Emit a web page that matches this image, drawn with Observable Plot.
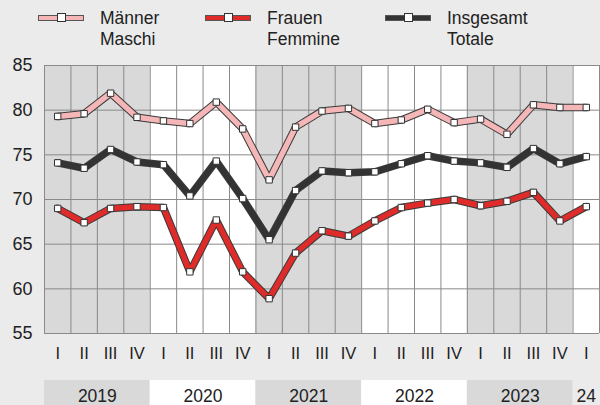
<!DOCTYPE html>
<html>
<head>
<meta charset="utf-8">
<script src="https://cdn.jsdelivr.net/npm/d3@7"></script>
<script src="https://cdn.jsdelivr.net/npm/@observablehq/plot@0.6"></script>
<style>
  html, body { margin: 0; padding: 0; background: #ebebeb; }
  body { width: 600px; height: 405px; overflow: hidden; font-family: "Liberation Sans", Arial, sans-serif; }
  #legend { position: relative; height: 55px; width: 600px; }
  .sw { position: absolute; top: 9px; width: 46px; height: 6px; border: 1px solid #555; box-sizing: border-box; }
  .sw::after { content: ""; position: absolute; left: 18px; top: -3px; width: 7px; height: 7px; background: #fff; border: 1px solid #333; }
  .lbl { position: absolute; top: 0; font-size: 17.5px; line-height: 21px; color: #222; white-space: nowrap; }
  #chart svg { display: block; overflow: visible; }
</style>
</head>
<body>
<div id="legend"></div>
<div id="chart"></div>
<script>
const quarters = ["I","II","III","IV","I","II","III","IV","I","II","III","IV","I","II","III","IV","I","II","III","IV","I"];
const years = ["2019","2020","2021","2022","2023","24"];
const yearStart = [0, 4, 8, 12, 16, 20];
const yearEnd = [4, 8, 12, 16, 20, 21];
const maenner = [79.3,79.6,81.9,79.2,78.8,78.5,80.9,77.9,72.2,78.1,79.9,80.2,78.5,78.9,80.1,78.6,79.0,77.3,80.6,80.3,80.3];
const frauen = [69.0,67.4,69.0,69.2,69.1,61.9,67.7,61.9,58.9,64.0,66.5,65.9,67.6,69.1,69.6,70.0,69.3,69.8,70.8,67.6,69.2];
const insgesamt = [74.1,73.5,75.6,74.2,73.9,70.4,74.3,70.1,65.5,71.0,73.2,73.0,73.1,74.0,74.9,74.3,74.1,73.6,75.7,74.0,74.8];
const seriesNames = [["Männer","Maschi"],["Frauen","Femmine"],["Insgesamt","Totale"]];
const seriesColors = ["#f4b6b6","#e02b2b","#333333"];
const yTicks = [55,60,65,70,75,80,85];

// legend
const legend = document.getElementById("legend");
const legendX = [38, 205, 385];
seriesNames.forEach((n, k) => {
  const sw = document.createElement("div");
  sw.className = "sw";
  sw.style.left = legendX[k] + "px";
  sw.style.top = "15px";
  sw.style.background = seriesColors[k];
  legend.appendChild(sw);
  const lb = document.createElement("div");
  lb.className = "lbl";
  lb.style.left = (legendX[k] + 62) + "px";
  lb.style.top = "8px";
  lb.innerHTML = n[0] + "<br>" + n[1];
  legend.appendChild(lb);
});

const idx = d3.range(quarters.length);
const pts = [];
[maenner, frauen, insgesamt].forEach((arr, k) => arr.forEach((v, i) => pts.push({s: k, i, q: i + 0.5, v})));
const yearRows = years.map((y, k) => ({y, x1: yearStart[k], x2: yearEnd[k], k}));

function yearBands(index, scales, values, dims) {
  const g = d3.create("svg:g");
  const top = dims.height - dims.marginBottom + 47;
  yearRows.forEach(r => {
    const fill = r.k === 5 ? "#ebebeb" : (r.k % 2 === 0 ? "#d9d9d9" : "#ffffff");
    g.append("rect")
      .attr("x", scales.x(r.x1)).attr("width", scales.x(r.x2) - scales.x(r.x1))
      .attr("y", top).attr("height", dims.height - top)
      .attr("fill", fill);
  });
  return g.node();
}

const plot = Plot.plot({
  width: 600,
  height: 350,
  marginTop: 10,
  marginBottom: 72,
  marginLeft: 44,
  marginRight: 1,
  style: {background: "transparent", fontFamily: "Liberation Sans, Arial, sans-serif"},
  x: {domain: [0, 21], axis: null},
  y: {domain: [55, 85], ticks: yTicks, label: null},
  marks: [
    Plot.rect(yearRows, {x1: "x1", x2: "x2", y1: 55, y2: 85, fill: d => d.k === 5 ? "#ffffff" : (d.k % 2 === 0 ? "#d9d9d9" : "#ffffff")}),
    Plot.ruleX(d3.range(22), {stroke: "#8a8a8a", strokeWidth: 1}),
    Plot.ruleY(yTicks, {stroke: "#8a8a8a", strokeWidth: 1}),
    Plot.axisY({ticks: yTicks, tickSize: 0, tickPadding: 12, fontSize: 18, fill: "#222", label: null}),
    Plot.text(idx, {x: i => i + 0.5, text: i => quarters[i], frameAnchor: "bottom", dy: 25, fontSize: 16.5, fill: "#222"}),
    yearBands,
    Plot.text(yearRows, {x: d => (d.x1 + d.x2) / 2, text: "y", frameAnchor: "bottom", dy: 68, fontSize: 17.5, fill: "#222"}),
    Plot.line(pts, {x: "q", y: "v", z: "s", stroke: "#3a3a3a", strokeWidth: 7.5, strokeLinejoin: "miter"}),
    Plot.line(pts, {x: "q", y: "v", z: "s", stroke: d => seriesColors[d.s], strokeWidth: 5.5, strokeLinejoin: "miter"}),
    Plot.dot(pts, {x: "q", y: "v", symbol: "square", r: 3.6, fill: "#fff", stroke: "#333", strokeWidth: 1})
  ]
});
document.getElementById("chart").appendChild(plot);
</script>
</body>
</html>
